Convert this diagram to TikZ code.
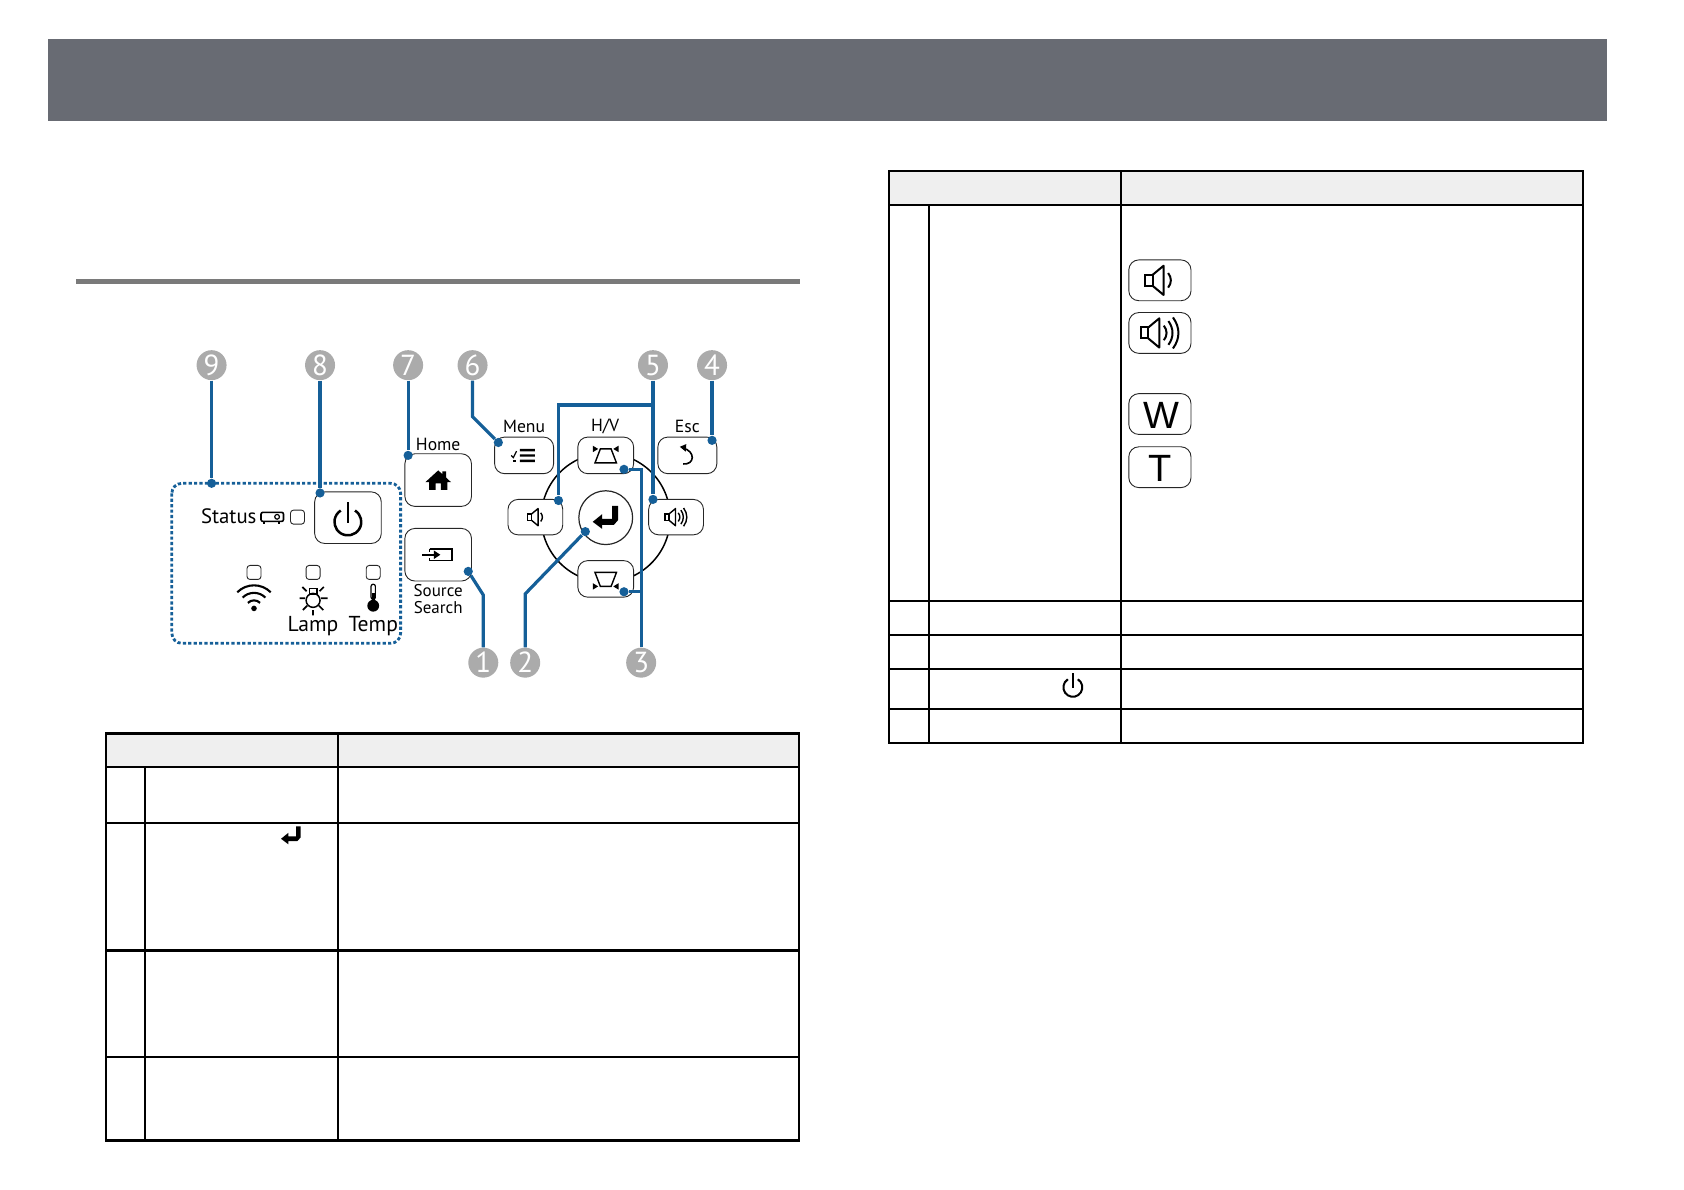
\documentclass[tikz,border=0pt]{standalone}
\usepackage{fontspec}
\setmainfont{PT Sans}
\newfontfamily\keyfont{Liberation Sans}
\usetikzlibrary{positioning}
\definecolor{bannergray}{HTML}{686B73}
\definecolor{rulegray}{HTML}{7A7A7A}
\definecolor{headgray}{HTML}{EFEFEF}
\definecolor{calloutgray}{HTML}{ABABAB}
\definecolor{leadblue}{HTML}{155F98}
\tikzset{
	callout/.style={circle, fill=calloutgray, text=white, inner sep=0pt, minimum size=15pt, font=\fontsize{14.5}{15}\selectfont},
	lead/.style={leadblue, line width=1.6pt},
	leadend/.style={circle, fill=leadblue, inner sep=0pt, minimum size=4.6pt},
	keybox/.style={draw=black!85, fill=white, line width=0.45pt, rounded corners=5pt, inner sep=0pt},
	lampbox/.style={draw=black!85, fill=white, line width=0.45pt, rounded corners=1.5pt, inner sep=0pt, minimum size=7pt},
	keylabel/.style={inner sep=0pt, font=\fontsize{8.8}{10}\selectfont},
	gridline/.style={black, line width=1.1pt},
	pics/speaker/.style={code={
		\draw (-8,-3) rectangle (-4,3);
		\draw[line join=round] (-4,-3) -- (2,-8) -- (2,8) -- (-4,3);
	}},
	pics/quietwave/.style={code={
		\draw (4.5,-4) .. controls (6.5,-1.5) and (6.5,1.5) .. (4.5,4);
	}},
	pics/loudwave/.style={code={
		\draw (4.5,-4) .. controls (6.5,-1.5) and (6.5,1.5) .. (4.5,4);
		\draw (7,-6.5) .. controls (10,-2.5) and (10,2.5) .. (7,6.5);
		\draw (9.5,-8.5) .. controls (13.5,-3) and (13.5,3) .. (9.5,8.5);
	}},
	pics/enterhook/.style={code={
		\fill[line join=round] (5.5,-10) -- (10.5,-10) -- (10.5,2) -- (7,6) -- (-3,6) -- (-3,9.5) -- (-11,3.5) -- (-3,-3) -- (-3,1) -- (5.5,1) -- cycle;
	}},
	pics/powermark/.style={code={
		\draw (4.6,-7.5) arc (-58:238:8.8);
		\draw (0,-13) -- (0,1);
	}}
}
\begin{document}
\begin{tikzpicture}[x=0.537pt, y=-0.537pt]
	\useasboundingbox (0,0) rectangle (1568,1108);
	
	% Kopfleiste und Linie
	\fill[bannergray] (44.5,36.5) rectangle (1496,112.5);
	\fill[rulegray] (71,260) rectangle (745,264);
	
	% Tabelle links
	\fill[headgray] (99,683) rectangle (744,714);
	\draw[gridline] (99,683) rectangle (744,1062);
	\draw[gridline] (315,683) -- (315,1062);
	\draw[gridline] (135,714) -- (135,1062);
	\foreach \rowy in {714,766,885,984}
		\draw[gridline] (99,\rowy) -- (744,\rowy);
	\pic[scale=0.85] at (271,778) {enterhook};
	
	% Tabelle rechts
	\fill[headgray] (828,159) rectangle (1474,190.7);
	\draw[gridline] (828,159) rectangle (1474,691.7);
	\draw[gridline] (1044,159) -- (1044,691.7);
	\draw[gridline] (865,190.7) -- (865,691.7);
	\foreach \rowy in {190.7,559.7,591.5,623,660}
		\draw[gridline] (828,\rowy) -- (1474,\rowy);
	\pic[scale=1, line width=1pt] at (999,640) {powermark};
	
	% Tasten in der Tabelle
	\node[keybox, minimum width=31.1pt, minimum height=20.4pt] (tabquiet) at (1080,261) {};
	\node[keybox, minimum width=31.1pt, minimum height=20.4pt] (tabloud) at (1080,310) {};
	\node[keybox, minimum width=31.1pt, minimum height=20.4pt] (tabwide) at (1080,385.5) {};
	\node[keybox, minimum width=31.1pt, minimum height=20.4pt] (tabtele) at (1080,435) {};
	\node[inner sep=0pt, font=\keyfont\fontsize{19}{19}\selectfont] (tabwidetext) at (1081,386.5) {W};
	\node[inner sep=0pt, font=\keyfont\fontsize{19}{19}\selectfont] (tabteletext) at (1080,436) {T};
	\pic[scale=1.7, line width=1pt] at (1080,261) {speaker};
	\pic[scale=1.7, line width=1pt] at (1080,261) {quietwave};
	\pic[scale=1.7, line width=1pt] at (1076,310) {speaker};
	\pic[scale=1.7, line width=1pt] at (1076,310) {loudwave};
	
	% Statusfeld
	\draw[leadblue, line width=1.4pt, dash pattern=on 1.6pt off 1.1pt, rounded corners=5pt] (160,450) rectangle (373,599);
	\node[inner sep=0pt, font=\fontsize{10.4}{12}\selectfont] (statuslabel) at (213,480.5) {Status};
	\node[lampbox] (statuslamp) at (277,481.5) {};
	\node[lampbox] (wifilamp) at (236.5,533) {};
	\node[lampbox] (lamplamp) at (291.5,533) {};
	\node[lampbox] (templamp) at (347.5,533) {};
	\node[inner sep=0pt, font=\fontsize{10.8}{12}\selectfont] (lamplabel) at (291.5,582.5) {Lamp};
	\node[inner sep=0pt, font=\fontsize{10.8}{12}\selectfont] (templabel) at (347.5,582.5) {Temp};
	
	% Projektor
	\draw[line width=0.8pt, rounded corners=1pt] (243,477) rectangle (264,485.5);
	\draw[line width=0.6pt] (258,481.2) circle (2.2);
	\draw[line width=0.8pt] (246,485.5) -- (246,488) (260,485.5) -- (260,488);
	
	% WLAN
	\draw[line width=1.05pt] (230.84,561.34) arc (225:315:8);
	\draw[line width=1.05pt] (225.9,556.4) arc (225:315:15);
	\draw[line width=1.05pt] (220.94,551.44) arc (225:315:22);
	\fill (236.5,566.5) circle (2.6);
	
	% Lampe
	\draw[line width=0.75pt] (291.5,559) circle (6.5);
	\draw[line width=0.75pt] (288,548) rectangle (295,553);
	\draw[line width=0.85pt] (279,557) -- (284,557) (299,557) -- (305,557)
		(281.5,546.5) -- (285.5,550.5) (301.5,546.5) -- (297.5,550.5)
		(282,568) -- (286,564) (301,568) -- (297,564) (291.5,568) -- (291.5,573);
	
	% Thermometer
	\draw[line width=0.6pt, rounded corners=1pt] (345.5,544) rectangle (349.5,558);
	\fill (346,552) rectangle (349,562);
	\fill (347.5,564) circle (5.5);
	
	% Netztaste
	\node[keybox, minimum width=33.3pt, minimum height=25.8pt] (powerkey) at (324,482) {};
	\pic[scale=1.42, line width=1.25pt] at (324,486) {powermark};
	
	% Home und Source
	\node[keybox, minimum width=33.3pt, minimum height=26.3pt] (homekey) at (408,447) {};
	\node[keybox, minimum width=33.3pt, minimum height=26.3pt] (sourcekey) at (408,516.5) {};
	\node[keylabel, above=1.2pt of homekey] (homelabel) {Home};
	\node[keylabel, below=1.5pt of sourcekey, align=center, font=\fontsize{8.5}{8.2}\selectfont] (sourcelabel) {Source\\Search};
	\fill (396,449) -- (408,438) -- (412,441.6) -- (412,439) -- (415.5,439) -- (415.5,444.8) -- (420,449) -- (416.5,449) -- (416.5,456) -- (410.5,456) -- (410.5,450) -- (405.5,450) -- (405.5,456) -- (399.5,456) -- (399.5,449) -- cycle;
	\draw[line width=0.8pt] (400,511) -- (421,511) -- (421,522) -- (400,522) (400,511) -- (400,513.5) (400,522) -- (400,519.5);
	\draw[line width=0.8pt] (393,516.5) -- (405,516.5);
	\fill (410,516.5) -- (404,512.5) -- (404,520.5) -- cycle;
	
	% Kreis mit Richtungstasten
	\draw[line width=0.75pt] (564,482) circle (60);
	\node[keybox, minimum width=29.5pt, minimum height=18.3pt] (menukey) at (488,424) {};
	\node[keybox, minimum width=27.9pt, minimum height=18.3pt] (hvkey) at (564,424) {};
	\node[keybox, minimum width=29.5pt, minimum height=18.3pt] (esckey) at (640,424) {};
	\node[keybox, minimum width=27.4pt, minimum height=17.7pt] (quietkey) at (498.5,481.5) {};
	\node[keybox, minimum width=27.4pt, minimum height=17.7pt] (loudkey) at (629.5,481.5) {};
	\node[keybox, minimum width=27.9pt, minimum height=18.3pt] (lowkey) at (564,539) {};
	\node[circle, draw=black!85, fill=white, line width=0.6pt, inner sep=0pt, minimum size=26.9pt] (enterkey) at (564,482) {};
	\node[keylabel] (menulabel) at (488,397) {Menu};
	\node[keylabel] (hvlabel) at (563.5,397) {H/V};
	\node[keylabel] (esclabel) at (640,397) {Esc};
	
	% Symbole auf den Tasten
	\pic[scale=1.1] at (564,482) {enterhook};
	\pic[line width=0.7pt] at (499,481.5) {speaker};
	\pic[line width=0.7pt] at (499,481.5) {quietwave};
	\pic[line width=0.7pt] at (627,481.5) {speaker};
	\pic[line width=0.7pt] at (627,481.5) {loudwave};
	\fill (484,418) rectangle (498,420.2) (484,423) rectangle (498,425.2) (484,428) rectangle (498,430.2);
	\draw[line width=0.6pt] (476,424) -- (478,426) -- (481,420);
	\fill (478,428) rectangle (480.5,430.2);
	\draw[line width=0.7pt] (559,418) -- (569,418) -- (574,431) -- (554,431) -- cycle;
	\fill (557,418) -- (552,415) -- (552,421) -- cycle (571,418) -- (576,415) -- (576,421) -- cycle;
	\draw[line width=0.7pt] (554,533) -- (574,533) -- (569,546) -- (559,546) -- cycle;
	\fill (557,546) -- (552,543) -- (552,549) -- cycle (571,546) -- (576,543) -- (576,549) -- cycle;
	\draw[line width=0.8pt] (635.5,417) .. controls (648,420) and (647,433) .. (636,432);
	\fill (633,416) -- (639,413.5) -- (638.5,420.5) -- cycle;
	
	% Nummern
	\foreach \num/\px/\py in {1/450/617, 2/489/617, 3/597/617, 4/663/340, 5/608/340, 6/440/340, 7/380/340, 8/298/340, 9/197/340}
		\node[callout] (call\num) at (\px,\py) {\num};
	
	% Enden der Linien
	\foreach \num/\px/\py in {1/436/532, 2/545/495, 3/581/437, 3b/581/551, 4/663/410, 5/608/465, 5b/520/466, 6/464/412, 7/380/424, 8/298/459, 9/197/450}
		\node[leadend] (tip\num) at (\px,\py) {};
	
	% Knicke
	\coordinate (bend1) at (450,554);
	\coordinate (bend2) at (489,553);
	\coordinate (bend3) at (597,437);
	\coordinate (fork3) at (597,551);
	\coordinate (fork5) at (608,377);
	\coordinate (bend5) at (520,377);
	\coordinate (bend6) at (440,388);
	
	% Linien
	\draw[lead] (call1) -- (bend1) -- (tip1);
	\draw[lead] (call2) -- (bend2) -- (tip2);
	\draw[lead] (call3) -- (bend3) -- (tip3);
	\draw[lead] (fork3) -- (tip3b);
	\draw[lead] (call4) -- (tip4);
	\draw[lead] (call5) -- (tip5);
	\draw[lead] (fork5) -- (bend5) -- (tip5b);
	\draw[lead] (call6) -- (bend6) -- (tip6);
	\draw[lead] (call7) -- (tip7);
	\draw[lead] (call8) -- (tip8);
	\draw[lead] (call9) -- (tip9);
\end{tikzpicture}
\end{document}
